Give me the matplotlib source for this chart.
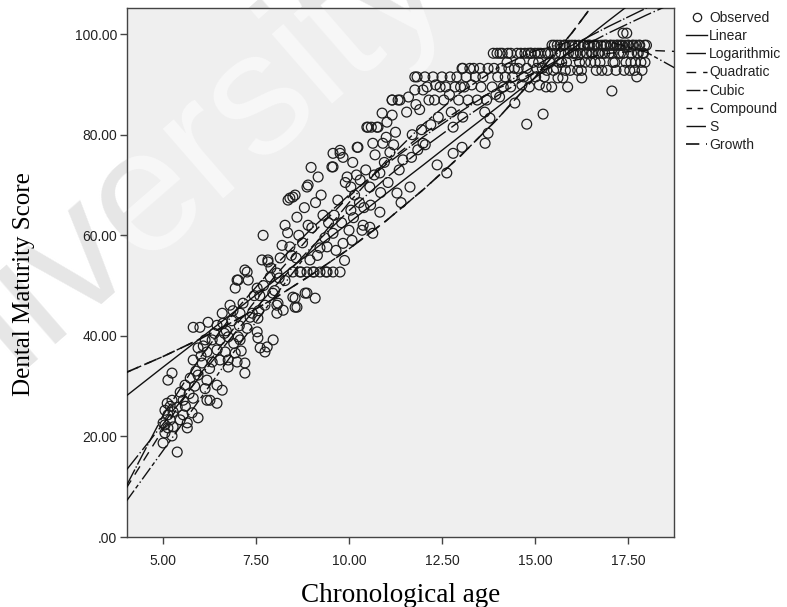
import matplotlib
matplotlib.use("Agg")
import matplotlib.pyplot as plt
from matplotlib.lines import Line2D

# observed points (chronological age, dental maturity score), read by age band
age_a = [5.00, 5.00, 5.05, 5.05, 5.11, 5.13, 5.13, 5.19, 5.24, 5.24,
         5.27, 5.27, 5.38, 5.38, 5.46, 5.46, 5.13, 5.24, 5.05, 5.19]
score_a = [18.7, 22.7, 20.7, 25.2, 26.6, 21.7, 31.2, 23.3, 27.2, 32.6,
           24.9, 21.9, 16.9, 25.8, 28.8, 23.3, 24.3, 20.1, 22.3, 26.0]

age_b = [5.54, 5.54, 5.59, 5.65, 5.65, 5.73, 5.78, 5.81, 5.81, 5.81,
         5.94, 5.94, 5.94, 5.99, 6.05, 6.13, 6.13, 6.18, 6.18, 6.18,
         6.21, 6.26, 6.32, 6.32, 6.45, 6.45, 6.45, 6.45, 5.70, 5.88,
         6.02, 6.08, 6.25, 6.38, 5.60, 5.85]
score_b = [27.2, 24.3, 30.2, 22.7, 21.7, 31.6, 24.7, 35.2, 27.6, 41.7,
           37.6, 32.2, 23.7, 41.7, 34.6, 39.2, 29.5, 36.8, 31.2, 27.2,
           42.7, 27.2, 39.2, 34.8, 42.1, 37.2, 30.2, 26.6, 28.5, 33.0,
           36.0, 38.0, 33.5, 40.5, 26.0, 30.0]

age_c = [6.53, 6.53, 6.59, 6.59, 6.61, 6.67, 6.75, 6.75, 6.75, 6.80,
         6.94, 6.94, 6.99, 6.99, 7.02, 7.02, 7.07, 7.07, 7.20, 7.20,
         7.26, 7.26, 7.29, 7.34, 7.20, 6.70, 6.85, 6.90, 7.10, 7.15,
         6.65, 7.40, 7.45, 6.88, 7.05]
score_c = [39.2, 35.2, 44.5, 29.2, 42.5, 36.8, 39.8, 35.2, 33.8, 46.1,
           36.6, 49.5, 34.8, 51.1, 39.8, 51.1, 44.5, 39.2, 34.6, 32.6,
           41.5, 52.7, 51.1, 43.7, 53.1, 41.0, 43.0, 38.5, 37.0, 46.5,
           40.5, 44.5, 48.0, 45.0, 42.0]

age_d = [7.53, 7.53, 7.55, 7.55, 7.61, 7.66, 7.69, 7.74, 7.74, 7.80,
         7.82, 7.82, 7.88, 7.96, 8.06, 8.06, 8.06, 8.09, 8.23, 8.28,
         8.28, 8.36, 8.41, 8.41, 8.49, 8.49, 8.49, 7.60, 7.70, 7.90,
         8.00, 8.15, 8.20, 8.35, 7.57, 8.45, 7.95, 8.12]
score_d = [40.8, 49.5, 43.5, 39.6, 37.6, 55.1, 60.0, 46.1, 36.8, 37.8,
           54.7, 55.1, 51.7, 39.2, 52.5, 46.1, 44.5, 46.5, 45.1, 62.0,
           51.0, 67.0, 67.4, 57.7, 67.6, 52.7, 47.7, 48.0, 50.0, 53.5,
           49.0, 55.5, 58.0, 60.5, 45.0, 56.0, 48.5, 51.5]

age_e = [8.55, 8.55, 8.55, 8.60, 8.60, 8.68, 8.71, 8.82, 8.87, 8.87,
         8.87, 8.90, 8.90, 8.95, 9.03, 9.06, 9.09, 9.17, 9.22, 9.22,
         9.38, 9.41, 9.41, 8.65, 8.75, 8.80, 9.00, 9.10, 9.15, 9.30,
         9.35, 9.45, 8.58, 9.25, 8.98]
score_e = [47.5, 45.7, 68.0, 63.6, 45.7, 52.7, 52.7, 48.5, 52.7, 69.6,
           48.5, 70.0, 62.0, 55.1, 52.7, 52.7, 47.5, 71.6, 52.7, 57.5,
           52.7, 52.7, 57.7, 60.0, 58.5, 65.5, 61.5, 66.5, 56.0, 64.0,
           59.5, 62.5, 55.5, 68.0, 73.5]

age_f = [9.54, 9.57, 9.57, 9.57, 9.57, 9.76, 9.76, 9.76, 9.84, 9.84,
         9.95, 10.05, 10.05, 10.12, 10.22, 10.24, 10.35, 10.38, 10.48, 9.65,
         9.70, 9.90, 10.00, 10.10, 10.15, 10.30, 10.40, 10.45, 9.60, 9.80,
         10.20, 10.28, 9.88, 10.08]
score_f = [73.6, 76.3, 60.4, 73.6, 52.7, 76.3, 76.9, 52.7, 75.5, 58.4,
           71.6, 69.6, 65.0, 63.5, 77.5, 77.5, 61.0, 62.0, 81.5, 57.0,
           67.0, 70.5, 61.0, 74.5, 68.0, 71.0, 65.5, 73.0, 64.0, 62.5,
           72.0, 66.5, 55.0, 59.0]

age_g = [10.51, 10.56, 10.56, 10.60, 10.64, 10.64, 10.75, 10.78, 10.83, 10.83,
         10.89, 10.91, 11.16, 11.16, 11.16, 11.29, 11.32, 11.37, 11.40, 10.70,
         10.95, 11.00, 11.05, 11.10, 11.25, 11.45, 10.58, 10.85, 11.20, 11.35,
         11.02, 10.68]
score_g = [81.5, 69.6, 61.6, 81.5, 78.3, 60.4, 81.5, 81.5, 72.4, 64.6,
           84.3, 78.3, 86.9, 83.9, 86.9, 68.4, 86.9, 86.9, 66.5, 76.0,
           74.5, 79.5, 70.5, 76.5, 80.5, 75.0, 66.0, 68.5, 78.0, 73.0,
           82.5, 72.0]

age_h = [11.64, 11.77, 11.77, 11.83, 11.99, 11.99, 12.04, 12.26, 12.37, 12.50,
         11.55, 11.60, 11.70, 11.85, 11.90, 12.10, 12.15, 12.20, 12.30, 12.45,
         11.68, 11.95, 12.40, 12.05, 12.33, 11.80]
score_h = [69.6, 88.9, 91.5, 91.5, 88.9, 78.3, 91.5, 91.5, 74.0, 91.5,
           84.5, 87.5, 80.0, 77.0, 85.0, 89.5, 86.9, 82.0, 86.9, 89.5,
           75.5, 81.0, 83.5, 78.0, 89.9, 86.0]

age_i = [12.63, 12.72, 12.80, 12.80, 12.90, 13.04, 13.04, 13.06, 13.06, 13.25,
         12.55, 12.60, 12.70, 12.85, 12.95, 13.10, 13.15, 13.20, 13.30, 13.35,
         13.40, 13.45, 12.75, 13.00]
score_i = [72.4, 91.5, 81.5, 76.3, 91.5, 93.2, 77.5, 93.2, 83.5, 93.2,
           86.9, 89.5, 88.0, 89.5, 86.9, 89.5, 91.5, 86.9, 89.9, 93.2,
           91.5, 86.9, 84.5, 89.5]

age_j = [13.52, 13.66, 13.74, 13.74, 13.79, 13.98, 14.06, 14.27, 14.46, 13.55,
         13.60, 13.85, 13.90, 14.00, 14.10, 14.15, 14.20, 14.30, 14.35, 14.40,
         13.70, 13.95, 14.25, 14.45, 13.65, 14.05]
score_j = [93.2, 78.3, 93.2, 80.3, 83.3, 96.2, 96.2, 96.2, 86.3, 89.5,
           91.5, 89.5, 93.2, 91.5, 93.2, 89.5, 91.5, 93.2, 89.5, 91.5,
           86.9, 88.0, 94.4, 93.2, 84.5, 87.5]

age_k = [14.52, 14.73, 14.78, 14.78, 15.00, 15.22, 15.46, 14.60, 14.70, 14.85,
         14.90, 15.05, 15.10, 15.15, 15.25, 15.30, 15.35, 15.40, 15.50, 15.55,
         15.60, 15.65, 15.70, 15.75, 15.80, 15.85, 15.90, 15.95, 14.65, 14.95,
         15.20, 15.45, 15.62, 15.88, 14.55, 15.02, 15.32, 15.72, 14.88, 15.58,
         15.12, 15.82]
score_k = [96.2, 96.2, 82.1, 93.2, 96.2, 84.1, 97.8, 94.4, 91.5, 89.5,
           96.2, 93.2, 94.4, 96.2, 91.5, 89.5, 96.2, 94.4, 92.8, 96.2,
           97.8, 94.4, 96.2, 91.3, 97.8, 94.4, 96.2, 92.8, 89.9, 94.4,
           93.2, 89.5, 91.3, 89.5, 93.2, 91.5, 92.8, 94.4, 96.2, 93.2,
           89.9, 92.8]

age_l = [16.00, 16.10, 16.20, 16.26, 16.30, 16.40, 16.50, 16.60, 16.70, 16.80,
         16.90, 17.00, 17.07, 17.10, 17.20, 17.30, 17.37, 17.40, 17.47, 17.50,
         17.60, 17.70, 17.74, 17.80, 17.90, 17.96, 18.00, 16.05, 16.15, 16.35,
         16.45, 16.55, 16.65, 16.75, 16.85, 16.95, 17.05, 17.15, 17.25, 17.35,
         17.45, 17.55, 17.65, 17.75, 17.85, 17.95, 16.25, 16.62, 16.88, 17.18,
         17.42, 17.68, 17.92, 16.42, 16.72, 17.28, 17.58, 17.88]
score_l = [97.8, 96.2, 94.4, 91.3, 97.8, 96.2, 94.4, 97.8, 96.2, 92.8,
           97.8, 96.2, 88.7, 94.4, 97.8, 96.2, 100.2, 92.8, 100.2, 97.8,
           96.2, 94.4, 91.5, 97.8, 96.2, 94.4, 97.8, 96.2, 92.8, 94.4,
           97.8, 96.2, 92.8, 94.4, 97.8, 92.8, 97.8, 94.4, 96.2, 97.8,
           94.4, 92.8, 97.8, 96.2, 94.4, 97.8, 92.8, 94.4, 96.2, 92.8,
           97.8, 92.8, 96.2, 97.8, 96.2, 97.8, 94.4, 92.8]

# the packed top rows near full maturity
age_m = [15.52, 15.68, 15.78, 15.92, 16.08, 16.18, 16.32, 16.48, 16.58, 16.68,
         16.78, 16.92, 17.02, 17.12, 17.22, 17.32, 17.52, 17.62, 17.72, 17.82,
         16.02, 16.22, 16.38, 16.52, 16.82, 17.08, 17.38, 17.78, 14.35, 14.62,
         14.82, 15.08, 15.28, 15.42, 13.88, 14.12]
score_m = [97.8, 97.8, 97.8, 97.8, 97.8, 97.8, 97.8, 97.8, 97.8, 97.8,
           97.8, 97.8, 97.8, 97.8, 97.8, 97.8, 97.8, 97.8, 97.8, 97.8,
           96.2, 96.2, 96.2, 96.2, 96.2, 96.2, 96.2, 96.2, 96.2, 96.2,
           96.2, 96.2, 96.2, 96.2, 96.2, 96.2]

age = (age_a + age_b + age_c + age_d + age_e + age_f + age_g + age_h
       + age_i + age_j + age_k + age_l + age_m)
score = (score_a + score_b + score_c + score_d + score_e + score_f + score_g
         + score_h + score_i + score_j + score_k + score_l + score_m)

# fitted curves, values read at whole years
fit_age = [4, 5, 6, 7, 8, 9, 10, 11, 12, 13, 14, 15, 16, 17, 18, 19]
fit_linear = [28.0, 33.8, 39.5, 45.3, 51.0, 56.8, 62.5, 68.3, 74.0, 79.8,
              85.5, 91.3, 97.0, 102.8, 108.5, 114.3]
fit_log = [10.0, 24.2, 35.7, 45.5, 53.9, 61.4, 68.0, 74.1, 79.6, 84.6,
           89.3, 93.7, 97.8, 101.6, 105.2, 108.7]
fit_quadratic = [9.6, 21.4, 32.4, 42.5, 51.8, 60.2, 67.7, 74.4, 80.2, 85.1,
                 89.2, 92.4, 94.7, 96.2, 96.8, 96.5]
fit_cubic = [7.0, 17.2, 27.5, 37.8, 47.8, 57.5, 66.5, 74.8, 82.1, 88.4,
             93.3, 96.7, 98.6, 98.5, 96.4, 92.3]
fit_compound = [32.7, 35.9, 39.4, 43.3, 47.5, 52.2, 57.3, 62.9, 69.1, 75.8,
                83.2, 91.4, 100.3, 110.2, 121.0, 132.8]
fit_s = [13.2, 22.5, 32.0, 41.2, 49.8, 57.7, 64.9, 71.4, 77.4, 82.8,
         87.8, 92.3, 96.5, 100.3, 103.8, 107.1]
fit_growth = fit_compound

x_ticks = [5.0, 7.5, 10.0, 12.5, 15.0, 17.5]
x_labels = ['5.00', '7.50', '10.00', '12.50', '15.00', '17.50']
y_ticks = [0, 20, 40, 60, 80, 100]
y_labels = ['.00', '20.00', '40.00', '60.00', '80.00', '100.00']

fig = plt.figure(figsize=(7.87, 6.07), dpi=100)

# faint watermark behind everything
wm_pos = (0.575, 1.02)
fig.text(wm_pos[0], wm_pos[1], 'University', fontsize=125, family='Liberation Sans',
         color='#e6e6e6', rotation=41, rotation_mode='anchor',
         ha='right', va='baseline', zorder=0)

ax = fig.add_axes([0.1614, 0.1153, 0.695, 0.8715])
ax.set_facecolor('#efefef')
ax.set_zorder(1)

# watermark again, lighter on top of the grey plot area
ax.text(wm_pos[0], wm_pos[1], 'University', fontsize=125, family='Liberation Sans',
        color='#f8f8f8', rotation=41, rotation_mode='anchor',
        ha='right', va='baseline', transform=fig.transFigure, zorder=0.5,
        clip_on=True)

ax.scatter(age, score, s=50, facecolors='none', edgecolors='#1e1e1e',
           linewidths=0.9, zorder=2, label='Observed')

lc = '#111111'
ax.plot(fit_age, fit_linear, color=lc, lw=1.0, ls='-', zorder=3)
ax.plot(fit_age, fit_log, color=lc, lw=1.0, dashes=(14, 1.5, 1, 1.5), zorder=3)
ax.plot(fit_age, fit_quadratic, color=lc, lw=1.0, dashes=(7, 5), zorder=3)
ax.plot(fit_age, fit_cubic, color=lc, lw=1.0, dashes=(10, 2, 3, 2, 1, 2), zorder=3)
ax.plot(fit_age, fit_compound, color=lc, lw=1.0, dashes=(4, 4), zorder=3)
ax.plot(fit_age, fit_s, color=lc, lw=1.0, dashes=(14, 2, 1, 2), zorder=3)
ax.plot(fit_age, fit_growth, color=lc, lw=1.2, dashes=(8, 4), zorder=3)

ax.set_xlim(4.03, 18.74)
ax.set_ylim(0, 105.2)
ax.set_xticks(x_ticks)
ax.set_xticklabels(x_labels)
ax.set_yticks(y_ticks)
ax.set_yticklabels(y_labels)
ax.tick_params(direction='out', length=5, width=1, color='#444444',
               labelsize=10, labelcolor='#222222', pad=2)
ax.tick_params(axis='x', pad=7)
for lab in ax.get_xticklabels() + ax.get_yticklabels():
    lab.set_family('Liberation Sans')
for sp in ax.spines.values():
    sp.set_color('#444444')
    sp.set_linewidth(1.0)

ax.set_xlabel('Chronological age', family='Liberation Serif', fontsize=19.5)
ax.xaxis.set_label_coords(0.5, -0.087)
ax.set_ylabel('Dental Maturity Score', family='Liberation Serif', fontsize=18)
ax.yaxis.set_label_coords(-0.168, 0.478)

handles = [
    Line2D([], [], ls='none', marker='o', mfc='none', mec='#1e1e1e', ms=6, mew=0.9),
    Line2D([], [], color=lc, lw=1.0, ls='-'),
    Line2D([], [], color=lc, lw=1.0, dashes=(14, 1.5, 1, 1.5)),
    Line2D([], [], color=lc, lw=1.0, dashes=(7, 5)),
    Line2D([], [], color=lc, lw=1.0, dashes=(10, 2, 3, 2, 1, 2)),
    Line2D([], [], color=lc, lw=1.0, dashes=(4, 4)),
    Line2D([], [], color=lc, lw=1.0, dashes=(14, 2, 1, 2)),
    Line2D([], [], color=lc, lw=1.2, dashes=(8, 4)),
]
names = ['Observed', 'Linear', 'Logarithmic', 'Quadratic', 'Cubic',
         'Compound', 'S', 'Growth']
leg = ax.legend(handles, names, loc='upper left', bbox_to_anchor=(0.872, 0.982),
                bbox_transform=fig.transFigure, frameon=False, borderpad=0,
                borderaxespad=0, handlelength=1.5, handletextpad=0.15,
                labelspacing=0.3, prop={'family': 'Liberation Sans', 'size': 10})
for t in leg.get_texts():
    t.set_color('#222222')

fig.savefig('out.png', dpi=100)
